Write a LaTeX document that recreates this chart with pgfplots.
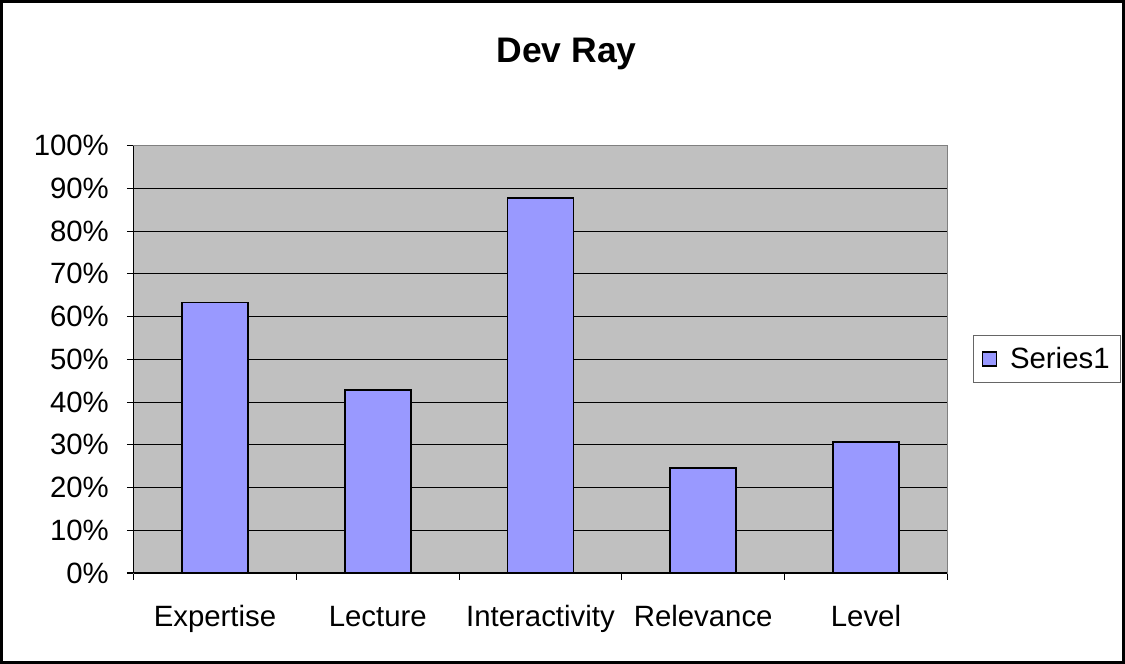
\documentclass[border=0pt]{standalone}
\usepackage{pgfplots}
\pgfplotsset{compat=1.18}
\usepackage{fontspec}
\setmainfont{Liberation Sans}
\definecolor{barfill}{RGB}{153,153,255}
\definecolor{plotbg}{RGB}{192,192,192}
\begin{document}
\begin{tikzpicture}[x=1pt,y=1pt]
\draw[line width=2.2pt] (-99pt,-66.75pt) rectangle (741.75pt,428.25pt);
\begin{axis}[
  at={(0pt,0pt)}, anchor=south west,
  scale only axis,
  width=609.75pt, height=320.25pt,
  xmin=-0.5, xmax=4.5,
  ymin=0, ymax=100,
  axis background/.style={fill=plotbg},
  axis line style={draw=black!50, line width=0.9pt},
  ybar, bar width=49.5pt,
  xtick={0,1,2,3,4},
  xticklabels={Expertise,Lecture,Interactivity,Relevance,Level},
  major x tick style={draw=none},
  minor xtick={-0.5,0.5,1.5,2.5,3.5,4.5},
  minor x tick style={draw=black, line width=0.8pt},
  minor tick length=5pt,
  ytick={0,10,...,100},
  yticklabel={\pgfmathprintnumber{\tick}\%},
  major y tick style={draw=black, line width=0.8pt},
  major tick length=5pt,
  tick align=outside,
  tick pos=left,
  ymajorgrids,
  major grid style={black, line width=0.8pt},
  /pgf/number format/assume math mode=true,
  tick label style={font=\fontsize{22}{26}\selectfont},
  xticklabel style={yshift=-16pt, text height=15.8pt, text depth=4.7pt},
  yticklabel style={xshift=-10pt},
  title={\textbf{Dev Ray}},
  title style={font=\fontsize{26.6}{30}\selectfont, at={(0.532,1.175)}, anchor=base},
  legend style={at={(1.0316,0.5)}, anchor=west, draw=black!60, line width=0.8pt,
    font=\fontsize{22}{26}\selectfont, inner xsep=6pt, inner ysep=7pt},
  legend image code/.code={\draw[#1] (0pt,-5.25pt) rectangle (10.5pt,5.25pt); \path (18pt,0pt);},
]
\addplot[fill=barfill, draw=black, line width=1.3pt] coordinates {
  (0,63.3) (1,42.9) (2,87.8) (3,24.6) (4,30.6)
};
\addlegendentry{Series1}
\end{axis}
\draw[black, line width=0.9pt] (0pt,0pt) -- (0pt,320.25pt);
\draw[black, line width=0.9pt] (0pt,0pt) -- (609.75pt,0pt);
\end{tikzpicture}
\end{document}
